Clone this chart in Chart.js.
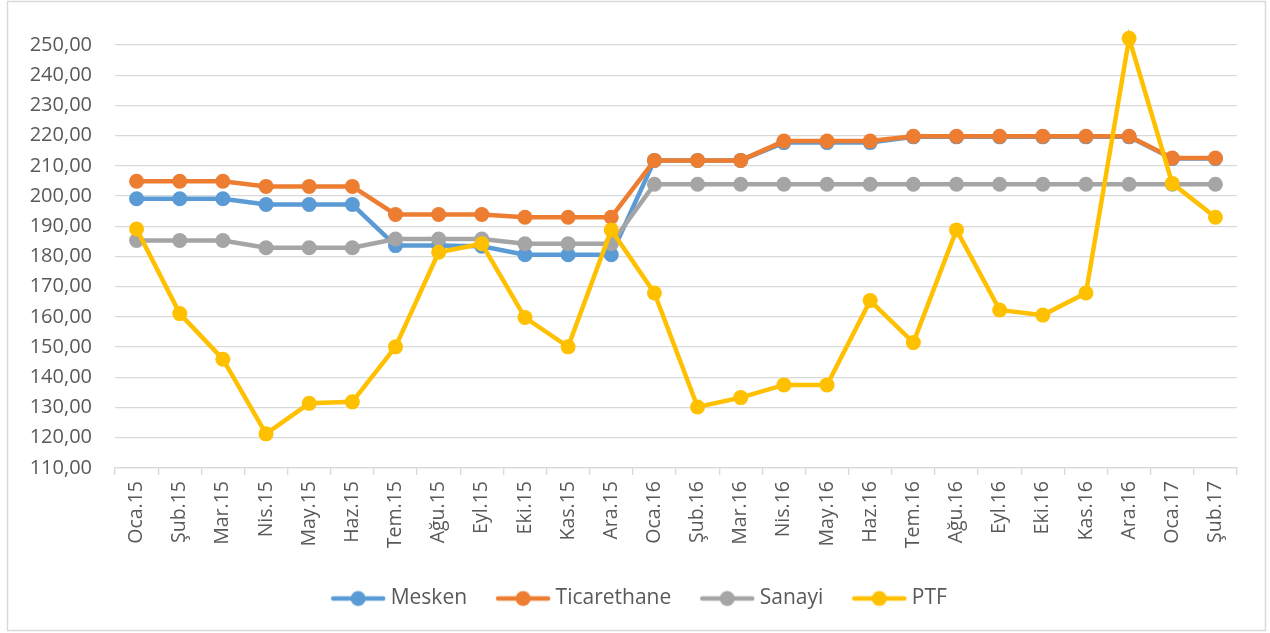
<!DOCTYPE html>
<html>
<head>
<meta charset="utf-8">
<style>
  html, body { margin: 0; padding: 0; background: #ffffff; }
  #wrap { position: relative; width: 1270px; height: 633px; }
</style>
<script src="https://cdn.jsdelivr.net/npm/chart.js@4/dist/chart.umd.min.js"></script>
</head>
<body>
<div id="wrap"><canvas id="c" width="1270" height="633"></canvas></div>
<script>
// Months (Turkish abbreviations)
const months = ['Oca.15','Şub.15','Mar.15','Nis.15','May.15','Haz.15','Tem.15','Ağu.15','Eyl.15','Eki.15','Kas.15','Ara.15',
                'Oca.16','Şub.16','Mar.16','Nis.16','May.16','Haz.16','Tem.16','Ağu.16','Eyl.16','Eki.16','Kas.16','Ara.16',
                'Oca.17','Şub.17'];

const mesken      = [199.1,199.1,199.1,197.2,197.2,197.2,183.6,183.6,183.4,180.6,180.6,180.6,
                     211.8,211.8,211.8,217.7,217.7,217.7,219.6,219.6,219.6,219.6,219.6,219.6,212.4,212.4];
const ticarethane = [204.9,204.9,204.9,203.2,203.2,203.2,193.9,193.9,193.9,193.0,193.0,193.0,
                     211.8,211.8,211.8,218.2,218.2,218.2,219.8,219.8,219.8,219.8,219.8,219.8,212.6,212.6];
const sanayi      = [185.3,185.3,185.3,182.9,182.9,182.9,185.8,185.8,185.8,184.2,184.2,184.2,
                     203.9,203.9,203.9,203.9,203.9,203.9,203.9,203.9,203.9,203.9,203.9,203.9,203.9,203.9];
const ptf         = [189.1,161.1,146.0,121.3,131.4,131.9,150.1,181.4,184.2,159.8,150.1,188.8,
                     167.9,130.2,133.3,137.5,137.5,165.4,151.5,188.8,162.3,160.6,167.9,252.2,204.2,193.0];

const seriesNames = ['Mesken','Ticarethane','Sanayi','PTF'];
const seriesColors = ['#5B9BD5','#ED7D31','#A5A5A5','#FFC000'];

const FONT = '"Open Sans", "Noto Sans", sans-serif';
const TEXT = '#595959';
const GRID = '#d9d9d9';

// Legend marker: a short line with a dot in the middle
function legendMarker(color) {
  const w = 56, h = 18;
  const cv = document.createElement('canvas');
  cv.width = w; cv.height = h;
  const g = cv.getContext('2d');
  g.strokeStyle = color; g.lineWidth = 4.5; g.lineCap = 'round';
  g.beginPath(); g.moveTo(3, h / 2); g.lineTo(w - 3, h / 2); g.stroke();
  g.fillStyle = color;
  g.beginPath(); g.arc(w / 2, h / 2, 7.5, 0, Math.PI * 2); g.fill();
  return cv;
}

const seriesData = [mesken, ticarethane, sanayi, ptf];
const datasets = seriesNames.map((name, i) => ({
  label: name,
  data: seriesData[i],
  borderColor: seriesColors[i],
  backgroundColor: seriesColors[i],
  borderWidth: 4.5,
  pointRadius: 7.5,
  pointBorderWidth: 0,
  pointBackgroundColor: seriesColors[i],
  pointHoverRadius: 7.5,
  tension: 0,
  clip: false,
  order: 3 - i
}));

// White background and light frame around the whole chart;
// the legend is centred on the full frame width rather than the padded box
const frame = {
  id: 'frame',
  afterLayout(chart) {
    if (chart.legend) {
      chart.legend.left += 23;
      chart.legend.right += 23;
    }
  },
  beforeDraw(chart) {
    const ctx = chart.ctx;
    ctx.save();
    ctx.fillStyle = '#ffffff';
    ctx.fillRect(0, 0, chart.width, chart.height);
    ctx.strokeStyle = '#d9d9d9';
    ctx.lineWidth = 1.5;
    ctx.strokeRect(7.5, 1.5, 1258, 629);
    ctx.restore();
  }
};

new Chart(document.getElementById('c'), {
  type: 'line',
  data: { labels: months, datasets },
  plugins: [frame],
  options: {
    responsive: false,
    animation: false,
    layout: { padding: { left: 0, right: 33, top: 45, bottom: 14 } },
    plugins: {
      tooltip: { enabled: false },
      legend: {
        position: 'bottom',
        labels: {
          font: { family: FONT, size: 21 },
          color: TEXT,
          usePointStyle: true,
          pointStyleWidth: 44,
          boxHeight: 18,
          padding: 34,
          generateLabels(chart) {
            return chart.data.datasets.map((ds, i) => ({
              text: ds.label,
              fillStyle: ds.borderColor,
              strokeStyle: ds.borderColor,
              lineWidth: 0,
              pointStyle: legendMarker(ds.borderColor),
              datasetIndex: i,
              hidden: false,
              fontColor: TEXT
            }));
          }
        }
      }
    },
    scales: {
      x: {
        offset: true,
        afterFit(scale) { scale.height = 86; },
        grid: {
          offset: true,
          drawOnChartArea: false,
          drawTicks: true,
          tickLength: 7,
          color: GRID,
          lineWidth: 1.3
        },
        border: { display: true, color: GRID, width: 1.3 },
        ticks: {
          font: { family: FONT, size: 19.5 },
          color: TEXT,
          minRotation: 90,
          maxRotation: 90,
          autoSkip: false,
          padding: 6
        }
      },
      y: {
        min: 110,
        max: 250,
        afterFit(scale) { scale.width = 115; },
        grid: { color: GRID, lineWidth: 1.3, drawTicks: false },
        border: { display: false },
        ticks: {
          stepSize: 10,
          font: { family: FONT, size: 20 },
          color: TEXT,
          padding: 23,
          callback: (v) => v.toFixed(2).replace('.', ',')
        }
      }
    }
  }
});
</script>
</body>
</html>
